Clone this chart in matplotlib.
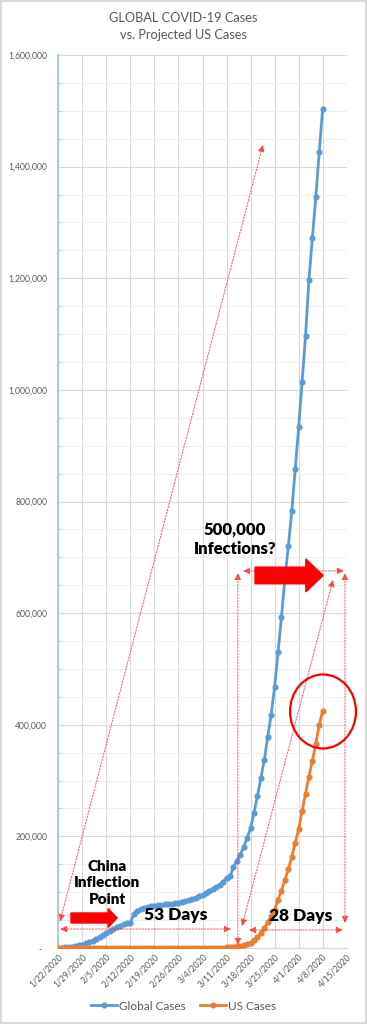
import matplotlib
matplotlib.use('Agg')
import matplotlib.pyplot as plt
import matplotlib.dates as mdates
import matplotlib.ticker as mticker
from matplotlib.patches import FancyArrow, Ellipse
import pandas as pd

plt.rcParams['font.family'] = ['Lato', 'DejaVu Sans']

# data, 1/22/2020 - 4/8/2020
dates = pd.date_range('2020-01-22', '2020-04-08')
global_cases = [555, 654, 941, 1434, 2118, 2927, 5578, 6166, 8234, 9927,
                12038, 16787, 19881, 23892, 27635, 30794, 34391, 37120, 40150, 42762,
                44802, 45221, 60368, 66885, 69030, 71224, 73258, 75136, 75639, 76197,
                76819, 78572, 78958, 79561, 80406, 81388, 82746, 84112, 86011,
                88369, 90306, 92840, 95120, 97886, 101801, 105847, 109821, 113590, 118620,
                125875, 128352, 145205, 156101, 167454, 181574, 197102, 214821, 242570, 272208,
                304507, 336953, 378235, 418045, 467653, 529591, 593291, 660706, 720117, 782365,
                857487,
                932605, 1013466, 1095917, 1197405, 1272115, 1345048, 1426096, 1504000]
us_cases = [1, 1, 2, 2, 5, 5, 5, 5, 5, 6,
            8, 8, 11, 11, 11, 12, 12, 12, 12, 12, 13, 13, 14, 14, 14, 14, 14, 14, 14, 14,
            16, 16, 16, 16, 16, 16, 17, 17, 25,
            32, 55, 74, 107, 184, 237, 403, 519, 594, 782,
            1147, 1586, 2219, 2978, 3212, 4679, 6512, 9169, 13663, 20030,
            26025, 34944, 46096, 56714, 68841, 86662, 103000, 122000, 141000, 163000,
            188000,
            213000, 245000, 276000, 307000, 335000, 366000, 400000, 425000]

x_start = pd.Timestamp('2020-01-22')
x_end = pd.Timestamp('2020-04-15')
tick_dates = pd.date_range(x_start, x_end, freq='7D')

# annotation shapes: (day offset, value)
dotted_arrows = [
    ((0.5, 48000), (59.6, 1439000)),
    ((0.5, 34000), (50.3, 34000)),
    ((52.3, 5400), (52.3, 672000)),
    ((53.5, 39400), (80.0, 659500)),
    ((55.5, 32300), (82.9, 32300)),
    ((83.5, 44800), (83.5, 672000)),
    ((53.8, 675600), (83.2, 675600)),
]

blue = '#5B9BD5'
orange = '#ED7D31'
gray = '#595959'

fig = plt.figure(figsize=(3.67, 10.24), dpi=100)
fig.patch.set_edgecolor('#D9D9D9')
fig.patch.set_linewidth(1.5)
ax = fig.add_axes([58.3 / 367, 1 - 948 / 1024, 288.4 / 367, 893 / 1024])

ax.plot(dates, global_cases, color=blue, lw=2.0, marker='o', ms=3.4, label='Global Cases', zorder=3)
ax.plot(dates, us_cases, color=orange, lw=2.0, marker='o', ms=3.4, label='US Cases', zorder=3)

ax.set_xlim(x_start, x_end)
ax.set_ylim(0, 1600000)
ax.set_xticks(tick_dates)
ax.set_xticklabels([f'{d.month}/{d.day}/{d.year}' for d in tick_dates],
                   rotation=45, ha='right', rotation_mode='anchor', fontsize=6.2, color=gray)
ax.yaxis.set_major_locator(mticker.MultipleLocator(200000))
ax.yaxis.set_minor_locator(mticker.MultipleLocator(50000))
ax.yaxis.set_major_formatter(mticker.FuncFormatter(lambda v, p: f'{v:,.0f}' if v > 0 else '-  '))
ax.tick_params(axis='y', which='major', length=0, pad=8, labelsize=6.2, labelcolor=gray)
ax.tick_params(axis='y', which='minor', direction='in', length=2, color='#9DC3E6')
ax.tick_params(axis='x', length=0, pad=3)

ax.grid(True, which='major', color='#D9D9D9', lw=0.8)
ax.grid(True, which='minor', axis='y', color='#EFEFEF', lw=0.8)
ax.set_axisbelow(True)
for s in ['top', 'right']:
    ax.spines[s].set_visible(False)
ax.spines['left'].set_color('#9DC3E6')
ax.spines['left'].set_linewidth(1.2)
ax.spines['bottom'].set_color('#D9D9D9')

t0 = mdates.date2num(x_start)


def X(day):
    return t0 + day


for (x0, y0), (x1, y1) in dotted_arrows:
    ax.annotate('', xy=(X(x1), y1), xytext=(X(x0), y0),
                arrowprops=dict(arrowstyle='<|-|>,head_length=0.5,head_width=0.25',
                                color='#FF2020', lw=0.7, linestyle=(0, (1.6, 1.6)),
                                shrinkA=0, shrinkB=0, mutation_scale=8, alpha=0.75),
                annotation_clip=False, zorder=4)

ax.add_patch(FancyArrow(X(57.3), 667500, 19.8, 0, width=29700, head_width=59000,
                        head_length=5, length_includes_head=True, color='red', zorder=5))
ax.add_patch(FancyArrow(X(3.7), 53800, 13.4, 0, width=17900, head_width=34000,
                        head_length=2.6, length_includes_head=True, color='red', zorder=5))
ax.add_patch(Ellipse((X(77.1), 423800), width=19.2, height=132600, fill=False,
                     edgecolor='red', lw=1.6, zorder=5, clip_on=False))

ax.text(X(14.2), 116500, 'China\nInflection\nPoint', ha='center', va='center',
        fontsize=11, fontweight='heavy', linespacing=1.35, zorder=6)
ax.text(X(34.3), 59100, '53 Days', ha='center', va='center', fontsize=12.5, fontweight='heavy', zorder=6)
ax.text(X(70.7), 57300, '28 Days', ha='center', va='center', fontsize=12.5, fontweight='heavy', zorder=6)
ax.text(X(51.5), 732000, '500,000\nInfections?', ha='center', va='center',
        fontsize=12, fontweight='heavy', linespacing=1.25, zorder=6)

fig.text(0.4986, 1 - 26.5 / 1024, 'GLOBAL COVID-19 Cases\nvs. Projected US Cases',
         ha='center', va='center', fontsize=9.2, color=gray, linespacing=1.45)

fig.legend(loc='center', bbox_to_anchor=(0.5, 1 - 1006 / 1024), ncol=2, frameon=False,
           fontsize=8.5, labelcolor=gray, handlelength=2.2, handletextpad=0.2, columnspacing=1.2)

fig.savefig('out.png', dpi=100)
